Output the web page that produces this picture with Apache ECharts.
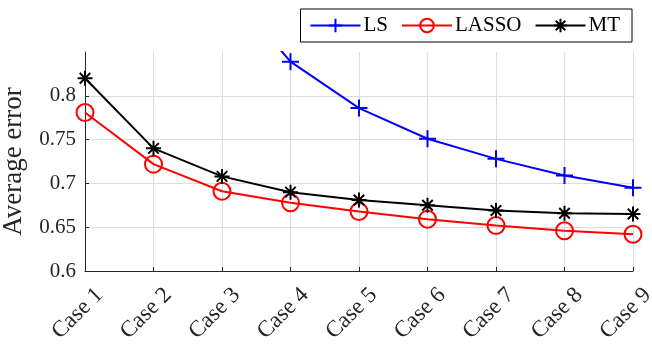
<!DOCTYPE html>
<html>
<head>
<meta charset="utf-8">
<script src="https://cdn.jsdelivr.net/npm/echarts@6/dist/echarts.min.js"></script>
<style>
  html, body { margin: 0; padding: 0; background: #fff; }
  #errorChart { width: 652px; height: 349px; }
</style>
</head>
<body>
<div id="errorChart"></div>
<script>
// data
const cases = ["Case 1", "Case 2", "Case 3", "Case 4", "Case 5", "Case 6", "Case 7", "Case 8", "Case 9"];
const lsValues = [1.35, 1.05, 0.93, 0.839, 0.786, 0.751, 0.728, 0.709, 0.695];
const lassoValues = [0.781, 0.722, 0.691, 0.678, 0.668, 0.659, 0.652, 0.646, 0.642];
const mtValues = [0.820, 0.740, 0.708, 0.690, 0.681, 0.675, 0.669, 0.666, 0.665];
const yTicks = [0.6, 0.65, 0.7, 0.75, 0.8];

const font = "Liberation Serif";
const textColor = "#262626";

const plusPath = "path://M0,-1L0,1M-1,0L1,0";
const starPath = "path://M0,-1L0,1M-1,0L1,0M-0.7,-0.7L0.7,0.7M-0.7,0.7L0.7,-0.7";

const chart = echarts.init(document.getElementById("errorChart"));

const mkSeries = (name, data, color, symbol, size, fill) => ({
  name,
  type: "line",
  data,
  symbol,
  symbolSize: size,
  clip: true,
  lineStyle: { color, width: 2 },
  itemStyle: { color: fill, borderColor: color, borderWidth: 2 },
  emphasis: { disabled: true },
});

const option = {
  animation: false,
  textStyle: { fontFamily: font },
  legend: {
    right: 20,
    top: 9,
    padding: [6, 12, 6, 9],
    itemGap: 13,
    itemWidth: 50,
    itemHeight: 17,
    borderColor: "#000",
    borderWidth: 1,
    textStyle: { fontFamily: font, fontSize: 21, color: "#000", padding: [0, 0, 0, -2] },
    data: ["LS", "LASSO", "MT"],
  },
  grid: { left: 85, right: 19, top: 52, bottom: 78, outerBoundsMode: "none" },
  xAxis: {
    type: "category",
    data: cases,
    boundaryGap: false,
    axisLine: { lineStyle: { color: textColor, width: 1 } },
    axisTick: { inside: true, length: 4, lineStyle: { color: textColor } },
    axisLabel: {
      rotate: 45,
      fontFamily: font,
      fontSize: 23,
      color: textColor,
      margin: 6,
      verticalAlign: "top",
      padding: [9, 0, 0, 0],
    },
    splitLine: { show: true, lineStyle: { color: "#dcdcdc", width: 1 } },
  },
  yAxis: {
    type: "value",
    min: 0.6,
    max: 0.85,
    interval: 0.05,
    name: "Average error",
    nameLocation: "middle",
    nameGap: 58,
    nameTextStyle: { fontFamily: font, fontSize: 27, color: textColor },
    axisLine: { show: true, lineStyle: { color: textColor, width: 1 } },
    axisTick: { show: true, inside: true, length: 4, lineStyle: { color: textColor } },
    axisLabel: {
      fontFamily: font,
      fontSize: 21,
      color: textColor,
      margin: 9,
      showMaxLabel: false,
      formatter: (v) => {
        const t = yTicks.find((k) => Math.abs(k - v) < 1e-6);
        return t === undefined ? "" : String(t);
      },
    },
    splitLine: { show: true, showMaxLine: false, lineStyle: { color: "#dcdcdc", width: 1 } },
  },
  series: [
    mkSeries("LS", lsValues, "#0000ff", plusPath, 17, "#0000ff"),
    mkSeries("LASSO", lassoValues, "#ff0000", "circle", 17, "rgba(0,0,0,0)"),
    mkSeries("MT", mtValues, "#000000", starPath, 15, "#000000"),
  ],
};

chart.setOption(option);
</script>
</body>
</html>
